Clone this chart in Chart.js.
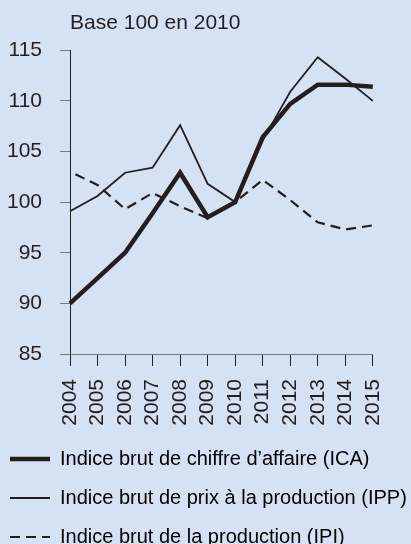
<!DOCTYPE html>
<html>
<head>
<meta charset="utf-8">
<script src="https://cdn.jsdelivr.net/npm/chart.js@4.4.1/dist/chart.umd.min.js"></script>
<style>
  html, body { margin: 0; padding: 0; background: #d5e2f3; }
  #wrap { width: 411px; height: 544px; position: relative; }
</style>
</head>
<body>
<div id="wrap"><canvas id="indices"></canvas></div>
<script>
var annees = ["2004","2005","2006","2007","2008","2009","2010","2011","2012","2013","2014","2015"];
var ica = [90.0, 92.5, 95.0, 98.9, 102.9, 98.5, 100.0, 106.4, 109.7, 111.6, 111.6, 111.4];
var ipp = [99.1, 100.6, 102.9, 103.4, 107.6, 101.8, 100.0, 106.1, 110.9, 114.3, 112.2, 110.0];
var ipi = [103.0, 101.7, 99.3, 100.9, 99.6, 98.4, 100.0, 102.2, 100.2, 98.0, 97.3, 97.7];
var graduations = [85, 90, 95, 100, 105, 110, 115];

var noir = '#231f20';
var gris = '#77797c';
Chart.defaults.font.family = 'Liberation Sans, Arial, sans-serif';
Chart.defaults.font.size = 21;
Chart.defaults.color = noir;

// la légende déborde à droite de la zone du graphique : on l'élargit jusqu'au bord du canvas
var legendeLarge = {
  id: 'legendeLarge',
  afterLayout: function(chart) {
    var l = chart.legend;
    l.right = chart.width;
    l.width = l.right - l.left;
  }
};

var ctx = document.getElementById('indices').getContext('2d');
var graph = new Chart(ctx, {
  type: 'line',
  data: {
    labels: annees,
    datasets: [{
      label: "Indice brut de chiffre d\u2019affaire (ICA)",
      data: ica,
      borderColor: noir,
      borderWidth: 4.5
    }, {
      label: "Indice brut de prix \u00e0 la production (IPP)",
      data: ipp,
      borderColor: noir,
      borderWidth: 1.8
    }, {
      label: "Indice brut de la production (IPI)",
      data: ipi,
      borderColor: noir,
      borderWidth: 2.2,
      borderDash: [10, 6],
      borderDashOffset: 10
    }]
  },
  plugins: [legendeLarge],
  options: {
    responsive: true,
    maintainAspectRatio: false,
    animation: false,
    layout: { padding: { left: -9, right: 35, top: 0, bottom: -13 } },
    elements: {
      point: { radius: 0, hoverRadius: 0 },
      line: { tension: 0, fill: false, backgroundColor: 'transparent' }
    },
    scales: {
      x: {
        grid: { drawOnChartArea: false, tickLength: 12, color: noir },
        border: { color: gris },
        ticks: { minRotation: 90, maxRotation: 90, padding: 13, autoSkip: false },
        afterFit: function(s) { s.height = 76; }
      },
      y: {
        min: 85,
        max: 115,
        afterBuildTicks: function(s) { s.ticks = graduations.map(function(v) { return { value: v }; }); },
        grid: { drawOnChartArea: false, tickLength: 10, color: gris },
        border: { color: noir },
        ticks: { padding: 18 },
        afterFit: function(s) { s.width = 79; }
      }
    },
    plugins: {
      title: {
        display: true,
        text: 'Base 100 en 2010',
        align: 'start',
        fullSize: false,
        font: { size: 21, weight: 'normal' },
        padding: { top: 11, bottom: 14 }
      },
      legend: {
        position: 'bottom',
        align: 'start',
        labels: {
          usePointStyle: true,
          pointStyleWidth: 40,
          padding: 19,
          font: { size: 20 },
          generateLabels: function(chart) {
            return chart.data.datasets.map(function(ds, i) {
              return {
                text: ds.label,
                strokeStyle: ds.borderColor,
                fillStyle: ds.borderColor,
                lineWidth: ds.borderWidth,
                lineDash: ds.borderDash || [],
                pointStyle: 'line',
                datasetIndex: i,
                hidden: false
              };
            });
          }
        }
      },
      tooltip: { enabled: false }
    }
  }
});
</script>
</body>
</html>
